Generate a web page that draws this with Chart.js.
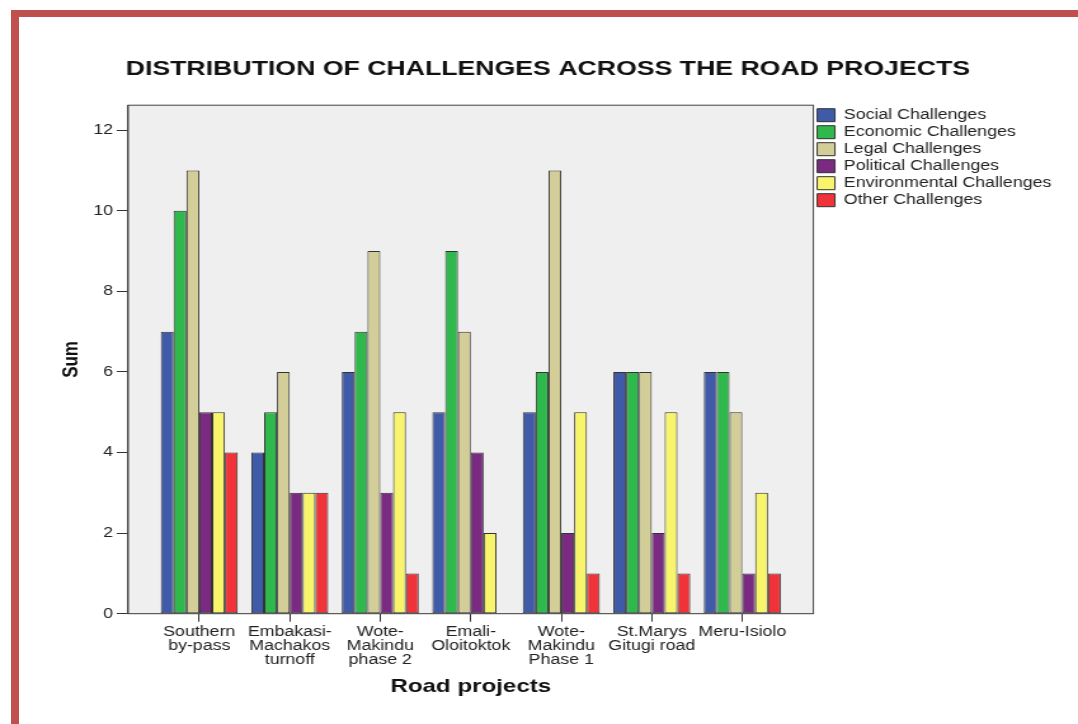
<!DOCTYPE html>
<html>
<head>
<meta charset="utf-8">
<script src="https://cdn.jsdelivr.net/npm/chart.js@4"></script>
<style>
  html, body { margin: 0; padding: 0; background: #fff; }
  #wrap { position: relative; width: 1078px; height: 724px; overflow: hidden; }
  #chart { position: absolute; left: 0; top: 0; }
  #frame {
    position: absolute; left: 11px; top: 10px; width: 1100px; height: 760px;
    border-top: 7px solid #c0504d; border-left: 8px solid #c0504d;
    pointer-events: none;
  }
</style>
</head>
<body>
<div id="wrap">
  <!-- the original picture is stretched sideways, so the canvas is too -->
  <canvas id="chart" width="849" height="724" style="width:1078px;height:724px"></canvas>
  <div id="frame"></div>
</div>
<script>
// Prosjekter (flere linjer per etikett)
const projects = [
  ["Southern", "by-pass"],
  ["Embakasi-", "Machakos", "turnoff"],
  ["Wote-", "Makindu", "phase 2"],
  ["Emali-", "Oloitoktok"],
  ["Wote-", "Makindu", "Phase 1"],
  ["St.Marys", "Gitugi road"],
  ["Meru-Isiolo"],
];

const social = [7, 4, 6, 5, 5, 6, 6];
const economic = [10, 5, 7, 9, 6, 6, 6];
const legal = [11, 6, 9, 7, 11, 6, 5];
const political = [5, 3, 3, 4, 2, 2, 1];
const environmental = [5, 3, 5, 2, 5, 5, 3];
const other = [4, 3, 1, 0, 1, 1, 1];

const yTicks = [0, 2, 4, 6, 8, 10, 12];

const font = "'Liberation Sans', Arial, sans-serif";

const series = [
  { label: "Social Challenges", data: social, color: "#3f5aa8" },
  { label: "Economic Challenges", data: economic, color: "#2fb84b" },
  { label: "Legal Challenges", data: legal, color: "#d3cd98" },
  { label: "Political Challenges", data: political, color: "#7a2a80" },
  { label: "Environmental Challenges", data: environmental, color: "#f8f56c" },
  { label: "Other Challenges", data: other, color: "#ef3338" },
];

// Grå bakgrunn og ramme rundt plottet
const plotBox = {
  id: "plotBox",
  beforeDatasetsDraw(chart) {
    const { ctx, chartArea: a } = chart;
    ctx.save();
    ctx.fillStyle = "#efefef";
    ctx.fillRect(a.left, a.top, a.right - a.left, a.bottom - a.top);
    ctx.strokeStyle = "#444";
    ctx.lineWidth = 1;
    ctx.strokeRect(a.left, a.top, a.right - a.left, a.bottom - a.top);
    ctx.restore();
  },
};

new Chart(document.getElementById("chart"), {
  type: "bar",
  data: {
    datasets: series.map((s) => ({
      label: s.label,
      data: s.data.map((v, i) => ({ x: i, y: v })),
      backgroundColor: s.color,
      borderColor: "#333",
      borderWidth: 1,
      borderSkipped: false,
      categoryPercentage: 0.85,
      barPercentage: 1,
    })),
  },
  options: {
    responsive: false,
    devicePixelRatio: 1,
    animation: false,
    layout: { padding: { left: 25, right: 11, top: 0, bottom: 25.5 } },
    plugins: {
      title: {
        display: true,
        text: "DISTRIBUTION OF CHALLENGES ACROSS THE ROAD PROJECTS",
        color: "#111",
        font: { family: font, size: 21, weight: "bold" },
        padding: { top: 57, bottom: 23 },
      },
      legend: {
        position: "right",
        align: "start",
        fullSize: false,
        labels: {
          color: "#222",
          font: { family: font, size: 14 },
          boxWidth: 14,
          boxHeight: 13,
          padding: 3,
        },
      },
      tooltip: { enabled: false },
    },
    scales: {
      x: {
        type: "linear",
        offset: false,
        min: -0.785,
        max: 6.785,
        afterBuildTicks: (s) => {
          s.ticks = projects.map((_, i) => ({ value: i }));
        },
        grid: {
          offset: false,
          drawOnChartArea: false,
          color: "#333",
          tickLength: 8,
        },
        border: { color: "#444" },
        ticks: {
          autoSkip: false,
          maxRotation: 0,
          padding: 3,
          color: "#222",
          font: { family: font, size: 14, lineHeight: 1.0 },
          callback: (v) => projects[v] || "",
        },
        title: {
          display: true,
          text: "Road projects",
          color: "#111",
          font: { family: font, size: 19, weight: "bold" },
          padding: { top: 6, bottom: 0 },
        },
      },
      y: {
        min: 0,
        max: 12.62,
        afterBuildTicks: (s) => {
          s.ticks = yTicks.map((v) => ({ value: v }));
        },
        grid: {
          drawOnChartArea: false,
          color: "#333",
          tickLength: 9,
        },
        border: { color: "#444" },
        ticks: {
          padding: 3,
          color: "#222",
          font: { family: font, size: 14 },
        },
        title: {
          display: true,
          text: "Sum",
          color: "#111",
          font: { family: font, size: 17, weight: "bold" },
          padding: { top: 21, bottom: 4 },
        },
      },
    },
  },
  plugins: [plotBox],
});
</script>
</body>
</html>
